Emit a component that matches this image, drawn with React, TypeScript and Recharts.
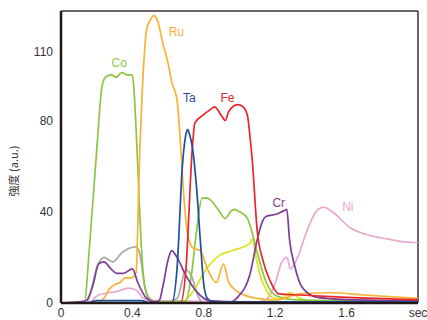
import { LineChart, Line, XAxis, YAxis, ReferenceLine, ReferenceDot, Label } from "recharts";

// time (sec) / intensity pairs
const coTime = [0, 0.13, 0.16, 0.2, 0.23, 0.25, 0.28, 0.31, 0.34, 0.37, 0.4, 0.41, 0.43, 0.45, 0.47, 0.5, 0.6, 0.7, 0.73, 0.76, 0.79, 0.82, 0.84, 0.88, 0.92, 0.95, 0.97, 1.0, 1.045, 1.07, 1.11, 1.15, 1.21, 1.3, 1.5, 2.0];
const coVal = [0, 0, 25, 67, 95, 99, 100, 99, 101, 100, 100, 92, 60, 25, 7, 1, 0.5, 1, 12, 32, 46, 46, 45, 41, 37, 40, 41, 40, 37, 31, 19, 9, 3, 1.5, 1, 1];

const ruTime = [0, 0.2, 0.24, 0.27, 0.3, 0.33, 0.36, 0.39, 0.42, 0.44, 0.46, 0.48, 0.5, 0.52, 0.54, 0.57, 0.6, 0.62, 0.65, 0.67, 0.69, 0.71, 0.74, 0.78, 0.82, 0.87, 0.91, 0.94, 1.0, 1.1, 1.2, 1.34, 1.52, 1.7, 2.0];
const ruVal = [0, 0, 2, 6, 8, 9, 11, 11, 13, 63, 100, 120, 124, 126, 124, 114, 105, 97, 89, 69, 45, 30, 24, 23, 15, 9, 17, 9, 4.5, 2, 1.3, 4, 4.5, 3.5, 2];

const taTime = [0, 0.15, 0.2, 0.3, 0.45, 0.5, 0.62, 0.65, 0.68, 0.7, 0.71, 0.72, 0.74, 0.76, 0.78, 0.8, 0.82, 0.85, 1.0, 2.0];
const taVal = [0, 0, 1, 1, 1, 0, 0, 15, 60, 74, 76, 74, 66, 50, 28, 8, 2, 0.5, 0.5, 0.5];

const feTime = [0, 0.67, 0.7, 0.735, 0.75, 0.79, 0.84, 0.86, 0.9, 0.92, 0.94, 0.99, 1.02, 1.045, 1.06, 1.07, 1.1, 1.13, 1.17, 1.22, 1.34, 1.6, 2.0];
const feVal = [0, 0, 15, 67, 79, 82, 85, 86, 82, 80, 84, 87, 86, 82, 72, 64, 31, 19, 10, 4, 3.5, 2.5, 1.5];

const crTime = [0, 0.14, 0.18, 0.21, 0.24, 0.28, 0.31, 0.35, 0.4, 0.43, 0.48, 0.52, 0.55, 0.57, 0.6, 0.62, 0.65, 0.7, 0.76, 0.83, 0.95, 0.99, 1.06, 1.1, 1.13, 1.15, 1.21, 1.25, 1.265, 1.28, 1.31, 1.35, 1.43, 1.6, 2.0];
const crVal = [0, 1, 8, 17, 18, 15, 13, 13, 15, 9, 2, 0.5, 1, 7, 19, 23, 20, 12, 5, 1, 0.5, 2.6, 13, 28, 36, 38, 39, 40.5, 41, 28, 16, 7, 2.6, 1.5, 1];

const niTime = [0, 0.15, 0.21, 0.31, 0.38, 0.42, 0.455, 0.5, 1.1, 1.15, 1.2, 1.235, 1.265, 1.285, 1.32, 1.375, 1.42, 1.47, 1.52, 1.62, 1.71, 1.8, 1.9, 2.0];
const niVal = [0, 0, 3.5, 5, 6.5, 5.7, 2.6, 1, 0.5, 1.5, 8.6, 17.6, 20, 15, 19, 31, 39, 42, 40, 33, 30, 28.5, 27, 26.4];

const grayTime = [0, 0.14, 0.21, 0.24, 0.29, 0.34, 0.42, 0.44, 0.47, 0.49, 0.55, 0.65, 0.7, 0.73, 0.77, 0.8, 2.0];
const grayVal = [0, 0, 17.5, 20, 18, 22, 24.6, 22, 7, 2.6, 0, 2, 14.5, 12, 2.6, 0, 0];

const yellowTime = [0, 0.67, 0.74, 0.81, 0.89, 0.96, 1.056, 1.07, 1.095, 1.12, 1.15, 1.18, 1.23, 1.28, 1.34, 1.4, 2.0];
const yellowVal = [0, 0, 5, 14.5, 21, 23, 26, 28, 19, 11, 5.7, 2.6, 1.5, 4.4, 2, 1, 0.8];

const xTicks = [0, 0.4, 0.8, 1.2, 1.6, 2.0];
const xTickLabels = ["0", "0.4", "0.8", "1.2", "1.6", "sec"];
const yTicks = [0, 40, 80, 110];

const series = [
  { name: "Ni", data: niTime.map((t, i) => ({ t, v: niVal[i] })), color: "#eaa8d0" },
  { name: "gray", data: grayTime.map((t, i) => ({ t, v: grayVal[i] })), color: "#a8a8a8" },
  { name: "yellow", data: yellowTime.map((t, i) => ({ t, v: yellowVal[i] })), color: "#dce11c" },
  { name: "Co", data: coTime.map((t, i) => ({ t, v: coVal[i] })), color: "#8cc63f" },
  { name: "Ru", data: ruTime.map((t, i) => ({ t, v: ruVal[i] })), color: "#f9b233" },
  { name: "Cr", data: crTime.map((t, i) => ({ t, v: crVal[i] })), color: "#7d3c98" },
  { name: "Fe", data: feTime.map((t, i) => ({ t, v: feVal[i] })), color: "#e8262a" },
  { name: "Ta", data: taTime.map((t, i) => ({ t, v: taVal[i] })), color: "#1e4f9e" },
];

// element names written next to their curves
const curveLabels = [
  { text: "Co", t: 0.326, v: 105.5, color: "#8cc63f" },
  { text: "Ru", t: 0.646, v: 118.7, color: "#f9b233" },
  { text: "Ta", t: 0.719, v: 90, color: "#1e4f9e" },
  { text: "Fe", t: 0.933, v: 90, color: "#e8262a" },
  { text: "Cr", t: 1.22, v: 44, color: "#7d3c98" },
  { text: "Ni", t: 1.607, v: 42, color: "#eaa8d0" },
];

const font = "'Liberation Sans', Arial, sans-serif";

export default function App() {
  return (
    <div style={{ position: "absolute", left: 0, top: 0, width: 427, height: 320, background: "#fff" }}>
      <LineChart width={427} height={320} margin={{ top: 11, right: 9, bottom: 0, left: 0 }}>
        <XAxis
          dataKey="t"
          type="number"
          domain={[0, 2]}
          ticks={xTicks}
          tickFormatter={(v: number) => xTickLabels[xTicks.indexOf(v)] ?? ""}
          height={17}
          tickLine={false}
          tickSize={0}
          tickMargin={5}
          axisLine={{ stroke: "#231815", strokeWidth: 2.5 }}
          tick={{ fill: "#333", fontSize: 12, fontFamily: font }}
          allowDataOverflow
        />
        <YAxis
          type="number"
          domain={[0, 128]}
          ticks={yTicks}
          width={61}
          tickLine={false}
          tickSize={0}
          tickMargin={8}
          axisLine={{ stroke: "#231815", strokeWidth: 2.5 }}
          tick={{ fill: "#333", fontSize: 12, fontFamily: font }}
          allowDataOverflow
        >
          <Label
            content={() => (
              <text
                x={15}
                y={171}
                transform="rotate(-90 15 171)"
                textAnchor="middle"
                dominantBaseline="middle"
                fill="#333"
                fontSize={11}
                fontFamily="'Noto Sans CJK JP', sans-serif"
              >
                強度 (a.u.)
              </text>
            )}
          />
        </YAxis>
        <ReferenceLine y={128} stroke="#3a3333" strokeWidth={1.5} ifOverflow="visible" />
        <ReferenceLine x={2} stroke="#3a3333" strokeWidth={1.5} ifOverflow="visible" />
        {series.map((s) => (
          <Line
            key={s.name}
            data={s.data}
            dataKey="v"
            type="monotone"
            stroke={s.color}
            strokeWidth={1.7}
            dot={false}
            isAnimationActive={false}
          />
        ))}
        {curveLabels.map((l) => (
          <ReferenceDot
            key={l.text}
            x={l.t}
            y={l.v}
            r={0}
            stroke="none"
            fill="none"
            ifOverflow="visible"
            label={{ value: l.text, position: "center", fill: l.color, fontSize: 12, fontFamily: font }}
          />
        ))}
      </LineChart>
    </div>
  );
}
